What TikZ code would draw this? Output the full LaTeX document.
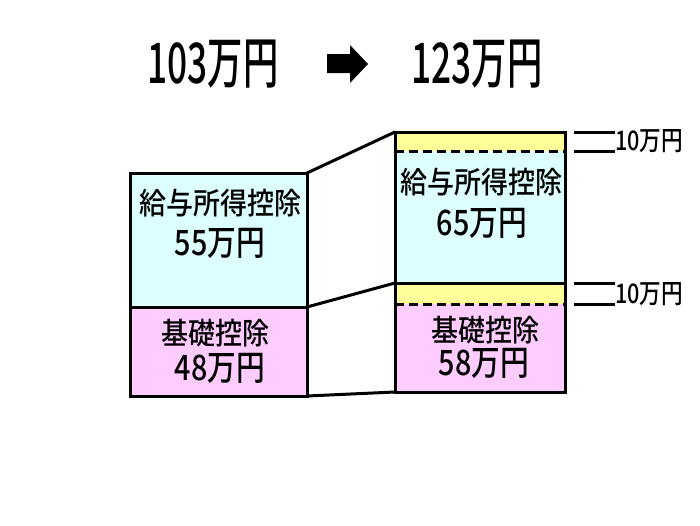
\documentclass[tikz,border=0pt]{standalone}
\usepackage{fontspec}
\usepackage{graphicx}
\setmainfont{Noto Sans CJK JP}[UprightFont={Noto Sans CJK JP Medium}]
\definecolor{kyuyocol}{HTML}{DDFFFF}
\definecolor{kisocol}{HTML}{FFCCFF}
\definecolor{zoucol}{HTML}{FFFF99}
\newcommand{\narrow}[2]{\scalebox{#1}[1]{#2}}
\tikzset{
    block/.style={rectangle, inner sep=0pt, outer sep=0pt, minimum width=#1},
    frame/.style={line width=3pt},
    kanji/.style={font=\fontsize{30}{32}\selectfont, inner sep=0pt},
    yen/.style={font=\fontsize{35}{37}\selectfont, inner sep=0pt},
    title/.style={font=\fontsize{56}{60}\selectfont, inner sep=0pt},
    addlab/.style={font=\fontsize{27}{29}\selectfont, inner sep=0pt, anchor=west}
}
\begin{document}
\begin{tikzpicture}[x=1pt, y=-1pt]
    \useasboundingbox (0,0) rectangle (700,525);
    % title
    \node[title] (before) at (213,64) {\narrow{0.63}{103万円}};
    \node[title] (after) at (477,64) {\narrow{0.63}{123万円}};
    \fill (327,54) -- (350,54) -- (350,45) -- (368,64) -- (350,83) -- (350,73) -- (327,73) -- cycle;
    % left column
    \node[block=177, minimum height=134, fill=kyuyocol] (kyuyoL) at (218.5,240) {};
    \node[block=177, minimum height=89, fill=kisocol] (kisoL) at (218.5,351.5) {};
    \draw[frame] (kyuyoL.north west) rectangle (kisoL.south east);
    \draw[frame] (kyuyoL.south west) -- (kyuyoL.south east);
    % right column
    \node[block=170, minimum height=19, fill=zoucol] (zouA) at (480,141.5) {};
    \node[block=170, minimum height=132, fill=kyuyocol] (kyuyoR) at (480,217) {};
    \node[block=170, minimum height=21, fill=zoucol] (zouB) at (480,293.5) {};
    \node[block=170, minimum height=88, fill=kisocol] (kisoR) at (480,348) {};
    \draw[frame] (zouA.north west) rectangle (kisoR.south east);
    \draw[frame] (kyuyoR.south west) -- (kyuyoR.south east);
    \draw[frame, dash pattern=on 9pt off 5pt] (zouA.south west) -- (zouA.south east);
    \draw[frame, dash pattern=on 9pt off 5pt] (zouB.south west) -- (zouB.south east);
    % texts
    \node[kanji] (k1) at (220,203) {\narrow{0.9}{給与所得控除}};
    \node[yen] (k2) at (220,243) {\narrow{0.82}{55万円}};
    \node[kanji] (b1) at (215,333) {\narrow{0.9}{基礎控除}};
    \node[yen] (b2) at (220,368) {\narrow{0.82}{48万円}};
    \node[kanji] (k3) at (481,182) {\narrow{0.9}{給与所得控除}};
    \node[yen] (k4) at (482,223) {\narrow{0.82}{65万円}};
    \node[kanji] (b3) at (485,330) {\narrow{0.9}{基礎控除}};
    \node[yen] (b4) at (484,363) {\narrow{0.82}{58万円}};
    % connectors
    \draw[frame] (kyuyoL.north east) -- (zouA.north west);
    \draw[frame] (kyuyoL.south east) -- (kyuyoR.south west);
    \draw[frame] (kisoL.south east) -- (kisoR.south west);
    % increments
    \node[addlab] (upA) at (615,141.5) {\narrow{0.8}{10万円}};
    \node[addlab] (upB) at (615,294) {\narrow{0.8}{10万円}};
    \draw[frame] ([xshift=9]zouA.north east) -- (upA.west |- zouA.north);
    \draw[frame] ([xshift=9]zouA.south east) -- (upA.west |- zouA.south);
    \draw[frame] ([xshift=9]zouB.north east) -- (upB.west |- zouB.north);
    \draw[frame] ([xshift=9]zouB.south east) -- (upB.west |- zouB.south);
\end{tikzpicture}
\end{document}
